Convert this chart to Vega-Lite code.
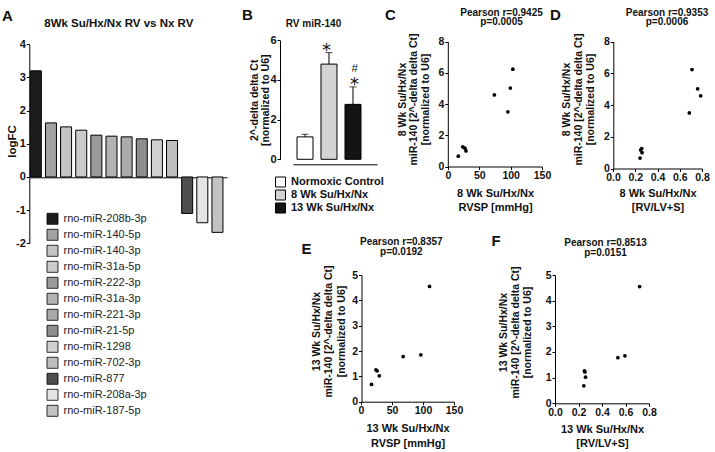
{
  "$schema": "https://vega.github.io/schema/vega-lite/v6.json",
  "width": 715,
  "height": 452,
  "autosize": "none",
  "padding": 0,
  "background": "white",
  "config": {
    "font": "Liberation Sans",
    "view": {"stroke": null},
    "axis": {
      "grid": false, "domainColor": "#000", "domainWidth": 1, "tickColor": "#000", "tickWidth": 1, "tickSize": 3,
      "labelPadding": 1, "labelFont": "Liberation Sans", "labelFontWeight": "bold", "labelFontSize": 10.5, "labelColor": "#111",
      "titleFont": "Liberation Sans", "titleFontWeight": "bold", "titleFontSize": 11, "titleColor": "#111",
      "labelFlush": false, "labelOverlap": false
    }
  },
  "datasets": {
    "mirna": [
      {"miRNA": "rno-miR-208b-3p", "logFC": 3.2},
      {"miRNA": "rno-miR-140-5p", "logFC": 1.63},
      {"miRNA": "rno-miR-140-3p", "logFC": 1.51},
      {"miRNA": "rno-miR-31a-5p", "logFC": 1.41},
      {"miRNA": "rno-miR-222-3p", "logFC": 1.26},
      {"miRNA": "rno-miR-31a-3p", "logFC": 1.23},
      {"miRNA": "rno-miR-221-3p", "logFC": 1.21},
      {"miRNA": "rno-miR-21-5p", "logFC": 1.15},
      {"miRNA": "rno-miR-1298", "logFC": 1.12},
      {"miRNA": "rno-miR-702-3p", "logFC": 1.1},
      {"miRNA": "rno-miR-877", "logFC": -1.1},
      {"miRNA": "rno-miR-208a-3p", "logFC": -1.38},
      {"miRNA": "rno-miR-187-5p", "logFC": -1.67}
    ],
    "rv": [
      {"group": "Normoxic Control", "mean": 1.13, "upper": 1.26},
      {"group": "8 Wk Su/Hx/Nx", "mean": 4.8, "upper": 5.38},
      {"group": "13 Wk Su/Hx/Nx", "mean": 2.77, "upper": 3.65}
    ],
    "star": [
      {"group": "8 Wk Su/Hx/Nx", "upper": 5.38, "sym": "*"},
      {"group": "13 Wk Su/Hx/Nx", "upper": 3.65, "sym": "*"}
    ],
    "hash": [
      {"group": "13 Wk Su/Hx/Nx", "upper": 3.65, "sym": "#"}
    ],
    "wk8": [
      {"RVSP": 16.4, "RVratio": 0.243, "miR140": 0.66},
      {"RVSP": 23.5, "RVratio": 0.258, "miR140": 1.26},
      {"RVSP": 27.0, "RVratio": 0.249, "miR140": 1.17},
      {"RVSP": 28.7, "RVratio": 0.261, "miR140": 1.0},
      {"RVSP": 74.0, "RVratio": 0.788, "miR140": 4.58},
      {"RVSP": 95.5, "RVratio": 0.686, "miR140": 3.5},
      {"RVSP": 99.5, "RVratio": 0.761, "miR140": 5.02},
      {"RVSP": 103.5, "RVratio": 0.71, "miR140": 6.23}
    ],
    "wk13": [
      {"RVSP": 17.0, "RVratio": 0.245, "miR140": 0.68},
      {"RVSP": 24.0, "RVratio": 0.25, "miR140": 1.26},
      {"RVSP": 26.0, "RVratio": 0.255, "miR140": 1.22},
      {"RVSP": 29.5, "RVratio": 0.26, "miR140": 1.02},
      {"RVSP": 68.0, "RVratio": 0.535, "miR140": 1.78},
      {"RVSP": 96.5, "RVratio": 0.595, "miR140": 1.85},
      {"RVSP": 110.5, "RVratio": 0.72, "miR140": 4.55}
    ]
  },
  "layer": [
    {
      "data": {"name": "mirna"},
      "mark": {"type": "bar", "stroke": "#000", "strokeWidth": 1},
      "encoding": {
        "x": {"field": "miRNA", "type": "nominal", "sort": null,
          "scale": {"domain": ["rno-miR-208b-3p","rno-miR-140-5p","rno-miR-140-3p","rno-miR-31a-5p","rno-miR-222-3p","rno-miR-31a-3p","rno-miR-221-3p","rno-miR-21-5p","rno-miR-1298","rno-miR-702-3p","rno-miR-877","rno-miR-208a-3p","rno-miR-187-5p"], "range": [29.3, 227], "paddingInner": 0.273, "paddingOuter": 0.167, "align": 0.2},
          "axis": {"orient": "bottom", "offset": -274.7, "labels": false, "ticks": false, "title": null}},
        "y": {"field": "logFC", "type": "quantitative",
          "scale": {"domain": [-2, 4], "range": [243.3, 44.3], "nice": false},
          "axis": {"orient": "left", "offset": -29.3, "values": [-2, -1, 0, 1, 2, 3, 4], "labelFontSize": 11, "labelExpr": "replace(datum.label, '\u2212', '-')", "title": "logFC", "titleFontSize": 11.5, "titleBaseline": "middle", "titleX": -16.8, "titleY": 141}},
        "fill": {"field": "miRNA", "type": "nominal",
          "scale": {"domain": ["rno-miR-208b-3p","rno-miR-140-5p","rno-miR-140-3p","rno-miR-31a-5p","rno-miR-222-3p","rno-miR-31a-3p","rno-miR-221-3p","rno-miR-21-5p","rno-miR-1298","rno-miR-702-3p","rno-miR-877","rno-miR-208a-3p","rno-miR-187-5p"], "range": ["#1c1c1c","#a3a3a3","#c4c4c4","#cbcbcb","#9a9a9a","#b3b3b3","#aaaaaa","#8e8e8e","#d0d0d0","#bebebe","#4e4e4e","#e4e4e4","#c2c2c2"]},
          "legend": {"orient": "none", "legendX": 46.5, "legendY": 212.8, "title": null, "symbolType": "square", "symbolSize": 121, "symbolStrokeColor": "#000", "symbolStrokeWidth": 0.8, "labelFontSize": 11, "labelFont": "Liberation Sans", "labelFontWeight": "normal", "labelColor": "#222", "labelOffset": 5, "rowPadding": 0, "padding": 0, "labelLimit": 300}}
      }
    },
    {
      "data": {"name": "mirna"},
      "mark": {"type": "point", "opacity": 0},
      "encoding": {
        "x": {"field": "miRNA", "type": "nominal", "axis": {"orient": "top", "domain": false, "ticks": false, "labels": false, "title": "8Wk Su/Hx/Nx RV vs Nx RV", "titleX": 118.3, "titleY": 26, "titleAngle": 0, "titleAlign": "center", "titleBaseline": "alphabetic", "titleFontSize": 11.5}},
        "y": {"field": "logFC", "type": "quantitative", "axis": {"orient": "left", "domain": false, "ticks": false, "labels": false, "title": "A", "titleX": 1.5, "titleY": 20, "titleAngle": 0, "titleAlign": "left", "titleBaseline": "alphabetic", "titleFontSize": 15}}
      }
    },
    {
      "data": {"name": "rv"},
      "mark": {"type": "bar", "stroke": "#000", "strokeWidth": 1},
      "encoding": {
        "x": {"field": "group", "type": "nominal", "sort": null,
          "scale": {"domain": ["Normoxic Control", "8 Wk Su/Hx/Nx", "13 Wk Su/Hx/Nx"], "range": [293, 377], "paddingInner": 0.3333, "paddingOuter": 0.4167, "align": 0.2},
          "axis": {"orient": "bottom", "offset": -287.7, "labels": false, "ticks": false, "title": null}},
        "y": {"field": "mean", "type": "quantitative",
          "scale": {"domain": [0, 6], "range": [159.3, 40.3], "nice": false},
          "axis": {"orient": "left", "offset": -280, "values": [0, 2, 4, 6], "labelFontSize": 11, "title": ["2^-delta delta Ct", "[normalized to U6]"], "titleFontSize": 10.5, "titleLineHeight": 11, "titleBaseline": "middle", "titleX": -26}},
        "fill": {"field": "group", "type": "nominal",
          "scale": {"domain": ["Normoxic Control", "8 Wk Su/Hx/Nx", "13 Wk Su/Hx/Nx"], "range": ["#ffffff", "#d4d4d4", "#141414"]},
          "legend": {"orient": "none", "legendX": 275, "legendY": 176.5, "title": null, "symbolType": "square", "symbolSize": 100, "symbolStrokeColor": "#000", "symbolStrokeWidth": 1, "labelFontSize": 11, "labelFont": "Liberation Sans", "labelFontWeight": "bold", "labelColor": "#111", "labelOffset": 5, "rowPadding": -5, "padding": 0, "labelLimit": 300}}
      }
    },
    {
      "data": {"name": "rv"},
      "mark": {"type": "rule", "color": "#000", "strokeWidth": 1},
      "encoding": {
        "x": {"field": "group", "type": "nominal", "sort": null,
          "scale": {"domain": ["Normoxic Control", "8 Wk Su/Hx/Nx", "13 Wk Su/Hx/Nx"], "range": [293, 377], "paddingInner": 0.3333, "paddingOuter": 0.4167, "align": 0.2},
          "axis": {"orient": "top", "domain": false, "ticks": false, "labels": false, "title": "RV miR-140", "titleX": 313, "titleY": 26, "titleAngle": 0, "titleAlign": "center", "titleBaseline": "alphabetic", "titleFontSize": 10}},
        "y": {"field": "mean", "type": "quantitative",
          "scale": {"domain": [0, 6], "range": [159.3, 40.3], "nice": false},
          "axis": {"orient": "left", "domain": false, "ticks": false, "labels": false, "title": "B", "titleX": 241.5, "titleY": 19.5, "titleAngle": 0, "titleAlign": "left", "titleBaseline": "alphabetic", "titleFontSize": 15}},
        "y2": {"field": "upper"}
      }
    },
    {
      "data": {"name": "rv"},
      "mark": {"type": "tick", "color": "#000", "thickness": 1},
      "encoding": {
        "x": {"field": "group", "type": "nominal", "sort": null,
          "scale": {"domain": ["Normoxic Control", "8 Wk Su/Hx/Nx", "13 Wk Su/Hx/Nx"], "range": [293, 377], "paddingInner": 0.3333, "paddingOuter": 0.4167, "align": 0.2},
          "axis": null},
        "y": {"field": "upper", "type": "quantitative",
          "scale": {"domain": [0, 6], "range": [159.3, 40.3], "nice": false}, "axis": null},
        "size": {"value": 7}
      }
    },
    {
      "data": {"name": "star"},
      "mark": {"type": "text", "font": "DejaVu Sans", "fontSize": 18, "baseline": "alphabetic", "align": "center", "dy": 3.5, "color": "#111"},
      "encoding": {
        "x": {"field": "group", "type": "nominal", "sort": null,
          "scale": {"domain": ["Normoxic Control", "8 Wk Su/Hx/Nx", "13 Wk Su/Hx/Nx"], "range": [293, 377], "paddingInner": 0.3333, "paddingOuter": 0.4167, "align": 0.2},
          "axis": null},
        "y": {"field": "upper", "type": "quantitative",
          "scale": {"domain": [0, 6], "range": [159.3, 40.3], "nice": false}, "axis": null},
        "text": {"field": "sym"}
      }
    },
    {
      "data": {"name": "hash"},
      "mark": {"type": "text", "font": "Liberation Sans", "fontSize": 11.5, "baseline": "alphabetic", "align": "center", "dy": -14.6, "color": "#111"},
      "encoding": {
        "x": {"field": "group", "type": "nominal", "sort": null,
          "scale": {"domain": ["Normoxic Control", "8 Wk Su/Hx/Nx", "13 Wk Su/Hx/Nx"], "range": [293, 377], "paddingInner": 0.3333, "paddingOuter": 0.4167, "align": 0.2},
          "axis": null},
        "y": {"field": "upper", "type": "quantitative",
          "scale": {"domain": [0, 6], "range": [159.3, 40.3], "nice": false}, "axis": null},
        "text": {"field": "sym"}
      }
    },
    {
      "data": {"name": "wk8"},
      "mark": {"type": "point", "filled": true, "color": "#000", "size": 14, "opacity": 1},
      "encoding": {
        "x": {"field": "RVSP", "type": "quantitative",
          "scale": {"domain": [0, 150], "range": [448, 542], "nice": false, "zero": false},
          "axis": {"orient": "bottom", "offset": -285.5, "values": [0, 50, 100, 150], "title": ["8 Wk Su/Hx/Nx", "RVSP [mmHg]"], "titleBaseline": "alphabetic", "titleY": 30.2, "titleLineHeight": 14.3}},
        "y": {"field": "miR140", "type": "quantitative",
          "scale": {"domain": [0, 8], "range": [166.5, 41.5], "nice": false},
          "axis": {"orient": "left", "offset": -447.8, "values": [0, 2, 4, 6, 8], "title": ["8 Wk Su/Hx/Nx", "miR-140 [2^-delta delta Ct]", "[normalized to U6]"], "titleFontSize": 10.5, "titleLineHeight": 11.7, "titleBaseline": "middle", "titleX": -45.8, "titleY": 99}}
      }
    },
    {
      "data": {"name": "wk8"},
      "mark": {"type": "point", "opacity": 0},
      "encoding": {
        "x": {"field": "RVSP", "type": "quantitative", "axis": {"orient": "top", "domain": false, "ticks": false, "labels": false, "title": ["Pearson r=0.9425", "p=0.0005"], "titleX": 501, "titleY": 15, "titleAngle": 0, "titleAlign": "center", "titleBaseline": "alphabetic", "titleFontSize": 10, "titleLineHeight": 9.5}},
        "y": {"field": "miR140", "type": "quantitative", "axis": {"orient": "left", "domain": false, "ticks": false, "labels": false, "title": "C", "titleX": 384.5, "titleY": 19.5, "titleAngle": 0, "titleAlign": "left", "titleBaseline": "alphabetic", "titleFontSize": 15}}
      }
    },
    {
      "data": {"name": "wk8"},
      "mark": {"type": "point", "filled": true, "color": "#000", "size": 14, "opacity": 1},
      "encoding": {
        "x": {"field": "RVratio", "type": "quantitative",
          "scale": {"domain": [0, 0.8], "range": [613, 702], "nice": false, "zero": false},
          "axis": {"orient": "bottom", "offset": -283.5, "values": [0, 0.2, 0.4, 0.6, 0.8], "format": ".1f", "title": ["8 Wk Su/Hx/Nx", "[RV/LV+S]"], "titleBaseline": "alphabetic", "titleY": 28.2, "titleLineHeight": 14.3}},
        "y": {"field": "miR140", "type": "quantitative",
          "scale": {"domain": [0, 8], "range": [168.5, 41.5], "nice": false},
          "axis": {"orient": "left", "offset": -613.3, "values": [0, 2, 4, 6, 8], "title": ["8 Wk Su/Hx/Nx", "miR-140 [2^-delta delta Ct]", "[normalized to U6]"], "titleFontSize": 10.5, "titleLineHeight": 11.7, "titleBaseline": "middle", "titleX": -46.6, "titleY": 99}}
      }
    },
    {
      "data": {"name": "wk8"},
      "mark": {"type": "point", "opacity": 0},
      "encoding": {
        "x": {"field": "RVratio", "type": "quantitative", "axis": {"orient": "top", "domain": false, "ticks": false, "labels": false, "title": ["Pearson r=0.9353", "p=0.0006"], "titleX": 666.5, "titleY": 15, "titleAngle": 0, "titleAlign": "center", "titleBaseline": "alphabetic", "titleFontSize": 10, "titleLineHeight": 9.5}},
        "y": {"field": "miR140", "type": "quantitative", "axis": {"orient": "left", "domain": false, "ticks": false, "labels": false, "title": "D", "titleX": 549.5, "titleY": 19.5, "titleAngle": 0, "titleAlign": "left", "titleBaseline": "alphabetic", "titleFontSize": 15}}
      }
    },
    {
      "data": {"name": "wk13"},
      "mark": {"type": "point", "filled": true, "color": "#000", "size": 14, "opacity": 1},
      "encoding": {
        "x": {"field": "RVSP", "type": "quantitative",
          "scale": {"domain": [0, 150], "range": [361, 454], "nice": false, "zero": false},
          "axis": {"orient": "bottom", "offset": -50.3, "values": [0, 50, 100, 150], "title": ["13 Wk Su/Hx/Nx", "RVSP [mmHg]"], "titleBaseline": "alphabetic", "titleY": 29.8, "titleLineHeight": 14.8}},
        "y": {"field": "miR140", "type": "quantitative",
          "scale": {"domain": [0, 5], "range": [401.7, 275], "nice": false},
          "axis": {"orient": "left", "offset": -361.5, "values": [0, 1, 2, 3, 4, 5], "title": ["13 Wk Su/Hx/Nx", "miR-140 [2^-delta delta Ct]", "[normalized to U6]"], "titleFontSize": 10.5, "titleLineHeight": 12.2, "titleBaseline": "middle", "titleX": -44.8, "titleY": 331}}
      }
    },
    {
      "data": {"name": "wk13"},
      "mark": {"type": "point", "opacity": 0},
      "encoding": {
        "x": {"field": "RVSP", "type": "quantitative", "axis": {"orient": "top", "domain": false, "ticks": false, "labels": false, "title": ["Pearson r=0.8357", "p=0.0192"], "titleX": 400.8, "titleY": 244, "titleAngle": 0, "titleAlign": "center", "titleBaseline": "alphabetic", "titleFontSize": 10, "titleLineHeight": 10.5}},
        "y": {"field": "miR140", "type": "quantitative", "axis": {"orient": "left", "domain": false, "ticks": false, "labels": false, "title": "E", "titleX": 301, "titleY": 253, "titleAngle": 0, "titleAlign": "left", "titleBaseline": "alphabetic", "titleFontSize": 15}}
      }
    },
    {
      "data": {"name": "wk13"},
      "mark": {"type": "point", "filled": true, "color": "#000", "size": 14, "opacity": 1},
      "encoding": {
        "x": {"field": "RVratio", "type": "quantitative",
          "scale": {"domain": [0, 0.8], "range": [555, 649], "nice": false, "zero": false},
          "axis": {"orient": "bottom", "offset": -48.7, "values": [0, 0.2, 0.4, 0.6, 0.8], "format": ".1f", "title": ["13 Wk Su/Hx/Nx", "[RV/LV+S]"], "titleBaseline": "alphabetic", "titleY": 28.7, "titleLineHeight": 14.8}},
        "y": {"field": "miR140", "type": "quantitative",
          "scale": {"domain": [0, 5], "range": [403.3, 275], "nice": false},
          "axis": {"orient": "left", "offset": -555, "values": [0, 1, 2, 3, 4, 5], "title": ["13 Wk Su/Hx/Nx", "miR-140 [2^-delta delta Ct]", "[normalized to U6]"], "titleFontSize": 10.5, "titleLineHeight": 12.2, "titleBaseline": "middle", "titleX": -52, "titleY": 332}}
      }
    },
    {
      "data": {"name": "wk13"},
      "mark": {"type": "point", "opacity": 0},
      "encoding": {
        "x": {"field": "RVratio", "type": "quantitative", "axis": {"orient": "top", "domain": false, "ticks": false, "labels": false, "title": ["Pearson r=0.8513", "p=0.0151"], "titleX": 605, "titleY": 245, "titleAngle": 0, "titleAlign": "center", "titleBaseline": "alphabetic", "titleFontSize": 10, "titleLineHeight": 10.5}},
        "y": {"field": "miR140", "type": "quantitative", "axis": {"orient": "left", "domain": false, "ticks": false, "labels": false, "title": "F", "titleX": 491, "titleY": 245.5, "titleAngle": 0, "titleAlign": "left", "titleBaseline": "alphabetic", "titleFontSize": 15}}
      }
    }
  ],
  "resolve": {
    "scale": {"x": "independent", "y": "independent", "fill": "independent"},
    "axis": {"x": "independent", "y": "independent"},
    "legend": {"fill": "independent"}
  }
}
